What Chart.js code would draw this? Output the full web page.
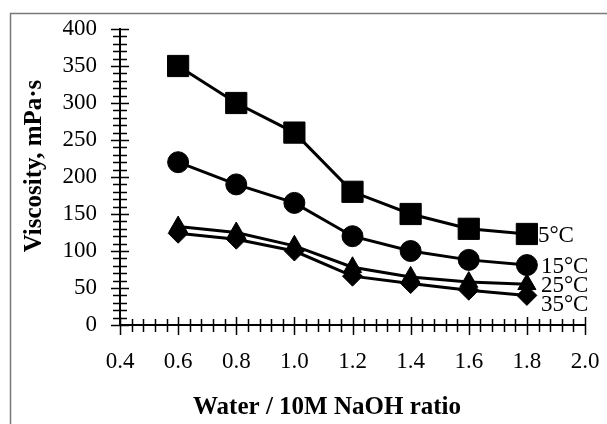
<!DOCTYPE html>
<html>
<head>
<meta charset="utf-8">
<script src="https://cdn.jsdelivr.net/npm/chart.js@4.4.1/dist/chart.umd.min.js"></script>
<style>
  html, body { margin: 0; padding: 0; background: #fff; }
  #wrap { width: 607px; height: 424px; position: relative; }
</style>
</head>
<body>
<div id="wrap"><canvas id="viscChart" width="607" height="424"></canvas></div>
<script>
// water / 10M NaOH ratio
const ratios = [0.6, 0.8, 1.0, 1.2, 1.4, 1.6, 1.8];

// viscosity, mPa·s, at each temperature
const visc5 = [350, 300, 260, 180, 150, 130, 123];
const visc15 = [220, 190, 165, 120, 100, 88, 81];
const visc25 = [133, 125, 107, 78, 65, 58, 55];
const visc35 = [124, 116, 100, 66, 56, 47, 40];

const seriesNames = ['5°C', '15°C', '25°C', '35°C'];

const serif = "'Liberation Serif', 'DejaVu Serif', serif";

function toPoints(values) {
    return ratios.map((r, i) => ({ x: r, y: values[i] }));
}

function makeSet(label, values, style, radius) {
    return {
        label: label,
        data: toPoints(values),
        borderColor: '#000',
        backgroundColor: '#000',
        borderWidth: 3,
        pointStyle: style,
        pointRadius: radius,
        pointHoverRadius: radius,
        pointBackgroundColor: '#000',
        pointBorderColor: '#000',
        pointBorderWidth: 1,
        showLine: true,
        tension: 0
    };
}

// minor/major tick marks crossing both axes, plus the outer frame
const axisMarks = {
    id: 'axisMarks',
    beforeDraw(chart) {
        const ctx = chart.ctx;
        ctx.save();
        ctx.strokeStyle = '#7a7a7a';
        ctx.lineWidth = 1.5;
        ctx.beginPath();
        ctx.moveTo(10.5, chart.height);
        ctx.lineTo(10.5, 13.5);
        ctx.lineTo(chart.width, 13.5);
        ctx.stroke();
        ctx.restore();
    },
    beforeDatasetsDraw(chart) {
        const ctx = chart.ctx;
        const xs = chart.scales.x;
        const ys = chart.scales.y;
        const x0 = xs.getPixelForValue(xs.min);
        const y0 = ys.getPixelForValue(0);
        ctx.save();
        ctx.strokeStyle = '#000';
        ctx.lineWidth = 1.5;
        ctx.beginPath();
        for (let v = 0; v <= 400; v += 10) {
            const py = Math.round(ys.getPixelForValue(v)) + 0.5;
            const len = v % 50 === 0 ? 9 : 7;
            ctx.moveTo(x0 - len, py);
            ctx.lineTo(x0 + len, py);
        }
        for (let k = 0; k <= 40; k++) {
            const v = 0.4 + k * 0.04;
            const px = Math.round(xs.getPixelForValue(v)) + 0.5;
            const major = k % 5 === 0;
            ctx.moveTo(px, y0 - (major ? 8 : 6));
            ctx.lineTo(px, y0 + (major ? 10 : 7));
        }
        ctx.stroke();
        ctx.restore();
    },
    afterDatasetsDraw(chart) {
        const ctx = chart.ctx;
        ctx.save();
        ctx.fillStyle = '#000';

        // temperature labels beside the last point of each series
        const dy = [2, 2, 2, 10];
        const dx = [11, 14, 14, 14];
        ctx.font = '23px ' + serif;
        ctx.textAlign = 'left';
        ctx.textBaseline = 'middle';
        chart.data.datasets.forEach((ds, i) => {
            const meta = chart.getDatasetMeta(i);
            const pt = meta.data[meta.data.length - 1];
            ctx.fillText(seriesNames[i], pt.x + dx[i], pt.y + dy[i]);
        });

        // axis titles
        ctx.font = 'bold 25px ' + serif;
        ctx.textAlign = 'center';
        ctx.fillText('Water / 10M NaOH ratio', 327, 408);
        ctx.translate(35, 166);
        ctx.rotate(-Math.PI / 2);
        ctx.fillText('Viscosity, mPa·s', 0, 0);
        ctx.restore();
    }
};

new Chart(document.getElementById('viscChart'), {
    type: 'scatter',
    data: {
        datasets: [
            makeSet(seriesNames[0], visc5, 'rect', 15),
            makeSet(seriesNames[1], visc15, 'circle', 10.5),
            makeSet(seriesNames[2], visc25, 'triangle', 10.5),
            makeSet(seriesNames[3], visc35, 'rectRot', 10)
        ]
    },
    options: {
        responsive: false,
        animation: false,
        devicePixelRatio: 1,
        layout: { padding: { top: 29, right: 22, left: 0, bottom: 0 } },
        plugins: {
            legend: { display: false },
            tooltip: { enabled: false }
        },
        scales: {
            x: {
                type: 'linear',
                min: 0.4,
                max: 2.0,
                grid: { display: false, drawTicks: false },
                border: { display: true, color: '#000', width: 2 },
                ticks: {
                    stepSize: 0.2,
                    padding: 23,
                    color: '#000',
                    font: { family: serif, size: 23 },
                    callback: v => v.toFixed(1)
                },
                afterFit(scale) {
                    scale.height = 99;
                    scale.paddingLeft = 0;
                    scale.paddingRight = 0;
                }
            },
            y: {
                min: 0,
                max: 400,
                grid: { display: false, drawTicks: false },
                border: { display: true, color: '#000', width: 2 },
                ticks: {
                    stepSize: 50,
                    padding: 23,
                    color: '#000',
                    font: { family: serif, size: 23 }
                },
                afterFit(scale) {
                    scale.width = 120;
                    scale.paddingTop = 0;
                    scale.paddingBottom = 0;
                }
            }
        }
    },
    plugins: [axisMarks]
});
</script>
</body>
</html>
